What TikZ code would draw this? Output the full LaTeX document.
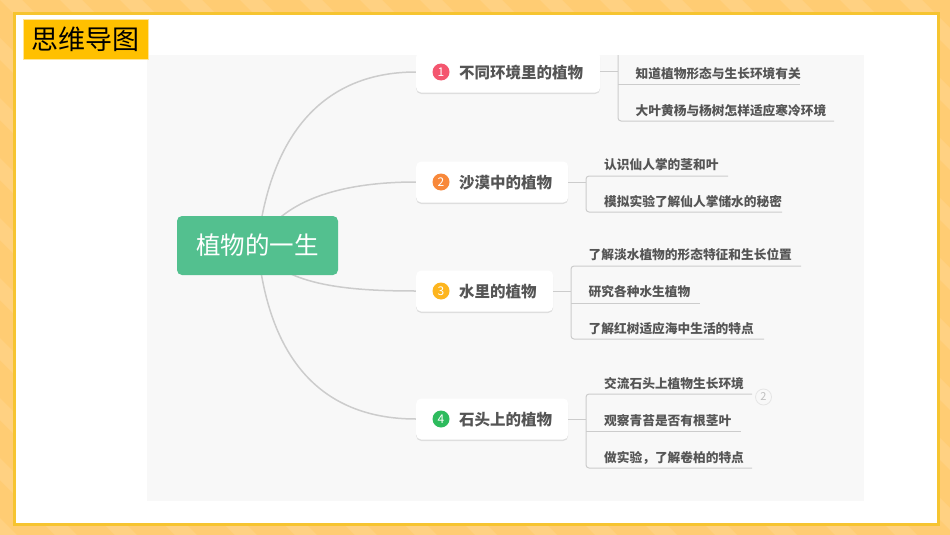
\documentclass[tikz,border=0pt]{standalone}
\usepackage{fontspec}
\setmainfont{Noto Sans CJK SC}
\usetikzlibrary{shadows}
\pgfdeclarelayer{base}
\pgfdeclarelayer{links}
\pgfsetlayers{base,links,main}
\definecolor{frameout}{HTML}{FFCC73}
\definecolor{framestripe}{HTML}{FFD182}
\definecolor{frameline}{HTML}{F6C430}
\definecolor{titlefill}{HTML}{FFC000}
\definecolor{panel}{HTML}{F8F8F8}
\definecolor{rootfill}{HTML}{53C08F}
\definecolor{txt}{HTML}{555555}
\definecolor{conn}{HTML}{CCCCCC}
\definecolor{ba}{HTML}{F4566F}
\definecolor{bb}{HTML}{F8883A}
\definecolor{bc}{HTML}{FDB51E}
\definecolor{bd}{HTML}{2DBB5D}
\tikzset{
 x=1pt,y=-1pt,
 branchbox/.style={fill=white,rounded corners=5pt,minimum height=41pt,inner sep=0pt,anchor=west,
   drop shadow={shadow xshift=0pt,shadow yshift=-1.5pt,opacity=.10,fill=black}},
 branchtext/.style={font=\fontsize{15.5}{16}\selectfont\bfseries,text=txt,anchor=west,inner sep=0pt},
 leaftext/.style={font=\fontsize{12.7}{14}\selectfont\bfseries,text=txt,anchor=west,inner sep=0pt},
 badge/.style={circle,minimum size=17pt,inner sep=0pt,text=white,font=\fontsize{12}{13}\selectfont},
 conn1/.style={draw=conn,line width=1.5pt},
 conn2/.style={draw=conn,line width=1pt,rounded corners=3pt},
}
\begin{document}
\begin{tikzpicture}
\useasboundingbox (0,0) rectangle (950,535);
\begin{pgfonlayer}{base}
\fill[frameout] (0,0) rectangle (950,535);
\begin{scope}
\clip (0,0) rectangle (950,535);
\foreach \k in {-600,-540,...,960}{
  \fill[framestripe] (\k,0) -- (\k+22,0) -- (\k+22+535,535) -- (\k+535,535) -- cycle;
}
\end{scope}
\fill[frameline] (13,12) rectangle (940,526);
\fill[white] (16,15) rectangle (937,523);
\fill[panel] (147,55) rectangle (864,501);
\end{pgfonlayer}
\node[fill=rootfill,rounded corners=5pt,minimum width=161pt,minimum height=59pt,inner sep=0pt,text=white,font=\fontsize{24.5}{26}\selectfont] (root) at (257.5,245.5) {植物的一生};
\node[branchbox,minimum width=184pt] (n1) at (416,72) {};
\node[branchbox,minimum width=152pt] (n2) at (416,182) {};
\node[branchbox,minimum width=137pt] (n3) at (416,291) {};
\node[branchbox,minimum width=152pt] (n4) at (416,419) {};
\begin{pgfonlayer}{links}
\draw[conn1] (root.center) .. controls (272,120) and (335,72) .. (n1.west);
\draw[conn1] (root.center) .. controls (285,192) and (360,182) .. (n2.west);
\draw[conn1] (root.center) .. controls (280,285) and (345,291) .. (n3.west);
\draw[conn1] (root.center) .. controls (270,375) and (335,419) .. (n4.west);
\end{pgfonlayer}
\node[badge,fill=ba] (b1) at (441,72) {1};
\node[badge,fill=bb] (b2) at (441,182) {2};
\node[badge,fill=bc] (b3) at (441,291) {3};
\node[badge,fill=bd] (b4) at (441,419) {4};
\node[branchtext] (t1) at (459,73) {不同环境里的植物};
\node[branchtext] (t2) at (459,183) {沙漠中的植物};
\node[branchtext] (t3) at (459,292) {水里的植物};
\node[branchtext] (t4) at (459,420) {石头上的植物};
% branch 1
\coordinate (s1) at (618,72);
\node[leaftext] (l11) at (635.5,74) {知道植物形态与生长环境有关};
\node[leaftext] (l12) at (635.5,111) {大叶黄杨与杨树怎样适应寒冷环境};
\coordinate (e11) at (800,84);
\coordinate (e12) at (834,121);
\coordinate (s1top) at (618,50);
\coordinate (s1m) at (618,84);
\coordinate (s1b) at (618,121);
\draw[conn2] (n1.east) -- (s1);
\draw[conn2] (s1top) -- (s1b) -- (e12);
\draw[conn2,rounded corners=0pt] (s1m) -- (e11);
% branch 2
\coordinate (s2) at (586,182);
\node[leaftext] (l21) at (604,165) {认识仙人掌的茎和叶};
\node[leaftext] (l22) at (604,202) {模拟实验了解仙人掌储水的秘密};
\coordinate (e21) at (728,176);
\coordinate (e22) at (782,212);
\coordinate (s2t) at (586,176);
\coordinate (s2b) at (586,212);
\draw[conn2] (n2.east) -- (s2);
\draw[conn2] (e21) -- (s2t) -- (s2b) -- (e22);
% branch 3
\coordinate (s3) at (571,291);
\node[leaftext] (l31) at (588.5,255) {了解淡水植物的形态特征和生长位置};
\node[leaftext] (l32) at (588.5,292) {研究各种水生植物};
\node[leaftext] (l33) at (588.5,329) {了解红树适应海中生活的特点};
\coordinate (e31) at (801,266);
\coordinate (e32) at (700,303);
\coordinate (e33) at (764,339);
\coordinate (s3t) at (571,266);
\coordinate (s3m) at (571,303);
\coordinate (s3b) at (571,339);
\draw[conn2] (n3.east) -- (s3);
\draw[conn2] (e31) -- (s3t) -- (s3b) -- (e33);
\draw[conn2,rounded corners=0pt] (s3m) -- (e32);
% branch 4
\coordinate (s4) at (586,419);
\node[leaftext] (l41) at (604,384) {交流石头上植物生长环境};
\node[leaftext] (l42) at (604,421) {观察青苔是否有根茎叶};
\node[leaftext] (l43) at (604,457.5) {做实验，了解卷柏的特点};
\coordinate (e41) at (752,394);
\coordinate (e42) at (741,431);
\coordinate (e43) at (752,468);
\coordinate (s4t) at (586,394);
\coordinate (s4m) at (586,431);
\coordinate (s4b) at (586,468);
\draw[conn2] (n4.east) -- (s4);
\draw[conn2] (e41) -- (s4t) -- (s4b) -- (e43);
\draw[conn2,rounded corners=0pt] (s4m) -- (e42);
\node[circle,draw=black!10,line width=.8pt,minimum size=16pt,inner sep=0pt,text=black!25,font=\fontsize{11}{12}\selectfont] (c2) at (763.5,397) {2};
% white band above the panel, which cuts off branch 1
\fill[white] (16,15) rectangle (937,55);
\node[fill=titlefill,draw=titlefill!40!white,line width=.5pt,minimum width=125pt,minimum height=40pt,inner sep=0pt,anchor=north west,font=\fontsize{27}{28}\selectfont,text=black] (title) at (22.5,19) {思维导图};
\end{tikzpicture}
\end{document}
